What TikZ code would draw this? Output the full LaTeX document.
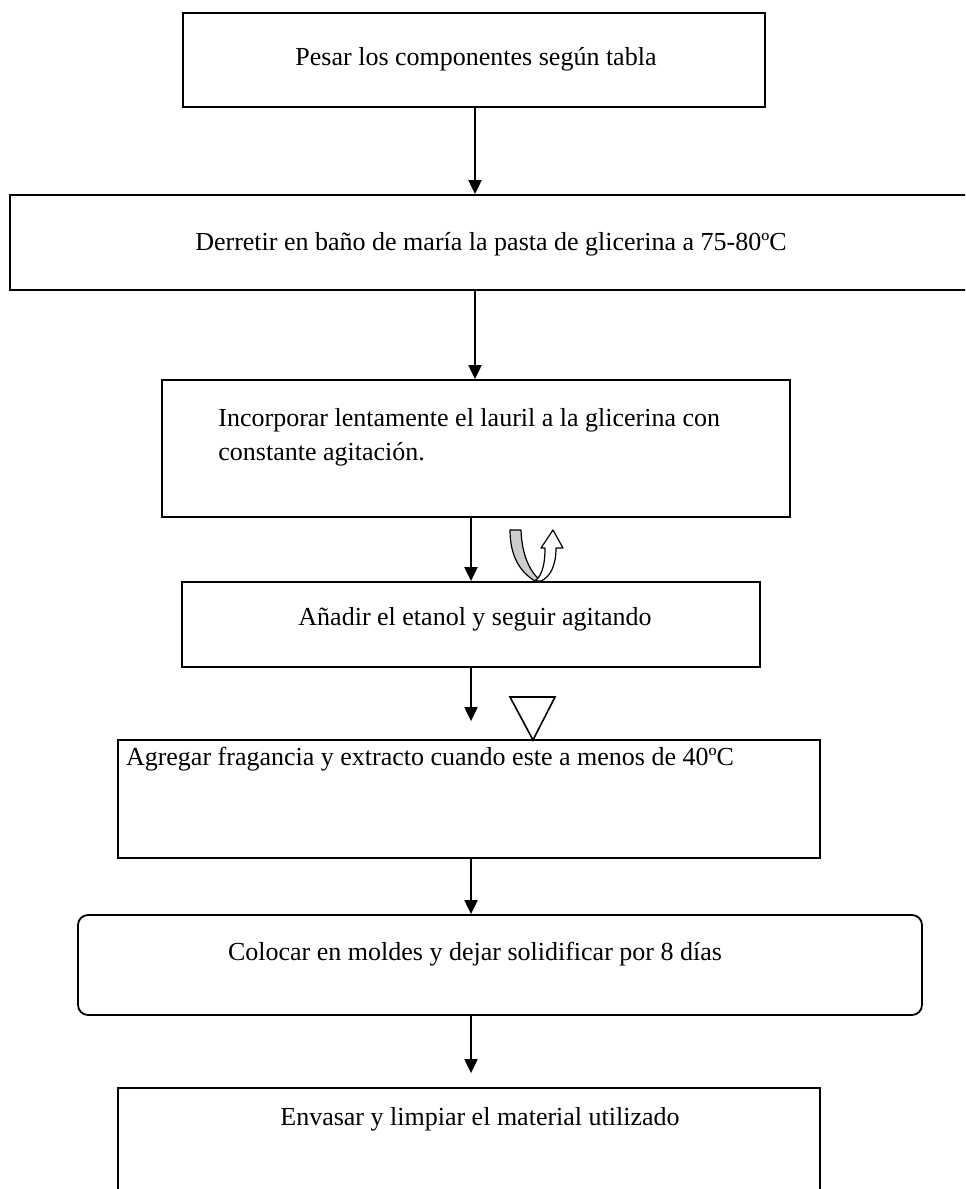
\documentclass[tikz,border=0pt]{standalone}
\usepackage{fontspec}
\setmainfont{Liberation Serif}
\usetikzlibrary{arrows.meta}
\tikzset{
    stepbox/.style={draw, line width=0.9pt, inner sep=0pt},
    steptext/.style={font=\fontsize{13}{17}\selectfont, inner sep=0pt},
    flow/.style={line width=1pt, -{Triangle[length=7pt,width=6.5pt]}},
    band/.style={line width=0.6pt, line join=round}
}
% box from (x1,y1) to (x2,y2), in pixels from the top left corner
\newcommand{\stepbox}[6] {
	\node[stepbox, #6, minimum width={(#4-#2)*0.5pt}, minimum height={(#5-#3)*0.5pt}]
		(#1) at ({(#2+#4)/2},{(#3+#5)/2}) {};
}
\begin{document}
\begin{tikzpicture}[x=0.5pt, y=-0.5pt]
		\useasboundingbox (0,0) rectangle (965,1189);
		\clip (0,0) rectangle (965,1189);
		\coordinate (upper) at (475,0);
		\coordinate (lower) at (471,0);

		% Boxes
		\stepbox{weigh}{183}{13}{765}{107}{}
		\stepbox{melt}{10}{195}{1000}{290}{}
		\stepbox{lauril}{162}{380}{790}{517}{}
		\stepbox{ethanol}{182}{582}{760}{667}{}
		\stepbox{aroma}{118}{740}{820}{858}{}
		\stepbox{mould}{78}{915}{922}{1015}{rounded corners=5pt}
		\stepbox{pack}{118}{1088}{820}{1240}{}

		% Texts
		\node[steptext] (tweigh) at (476,59) {Pesar los componentes según tabla};
		\node[steptext] (tmelt) at (491,244) {Derretir en baño de maría la pasta de glicerina a 75-80ºC};
		\node[steptext, anchor=west, align=left] (tlauril) at (218,437)
			{Incorporar lentamente el lauril a la glicerina con\\constante agitación.};
		\node[steptext] (tethanol) at (475,619) {Añadir el etanol y seguir agitando};
		\node[steptext] (taroma) at (430,759) {Agregar fragancia y extracto cuando este a menos de 40ºC};
		\node[steptext] (tmould) at (475,954) {Colocar en moldes y dejar solidificar por 8 días};
		\node[steptext] (tpack) at (480,1119) {Envasar y limpiar el material utilizado};

		% Arrows
		\draw[flow] (weigh.south -| upper) -- (melt.north -| upper);
		\draw[flow] (melt.south -| upper) -- (lauril.north -| upper);
		\draw[flow] (lauril.south -| lower) -- (ethanol.north -| lower);
		\draw[flow, shorten >=9pt] (ethanol.south -| lower) -- (aroma.north -| lower);
		\draw[flow] (aroma.south -| lower) -- (mould.north -| lower);
		\draw[flow, shorten >=7pt] (mould.south -| lower) -- (pack.north -| lower);

		% Stirring sign
		\filldraw[band, fill=gray!40] (510,530) -- (521,530)
			.. controls (522,556) and (530,572) .. (541,581) -- (535,581)
			.. controls (520,572) and (510,556) .. (510,530) -- cycle;
		\filldraw[band, fill=white] (535,581)
			.. controls (543,575) and (545,562) .. (545,548) -- (541,548) -- (553,530)
			-- (563,548) -- (556,548)
			.. controls (556,566) and (550,577) .. (541,581) -- cycle;

		% Cooling sign
		\draw[line width=0.8pt, line join=miter] (510,697) -- (555,697) -- (533,740) -- cycle;
\end{tikzpicture}
\end{document}
